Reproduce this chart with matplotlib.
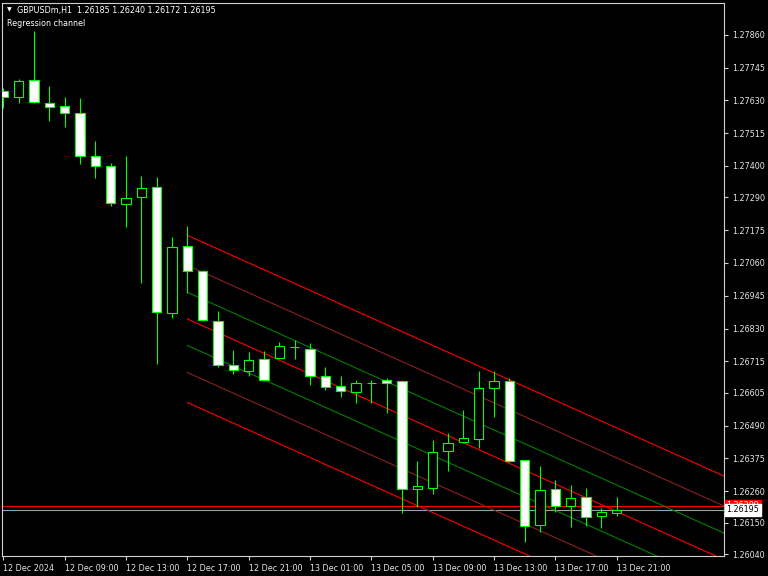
import matplotlib
matplotlib.use("Agg")
import matplotlib.pyplot as plt
from matplotlib.transforms import blended_transform_factory

# GBPUSDm H1 bars, 12 Dec 05:00 .. 13 Dec 21:00
opens = [1.27663, 1.27642, 1.27701, 1.27621, 1.27610, 1.27586, 1.27435, 1.27400,
         1.27267, 1.27291, 1.27326, 1.26885, 1.27120, 1.27032, 1.26857, 1.26702,
         1.26681, 1.26723, 1.26727, 1.26766, 1.26759, 1.26664, 1.26629, 1.26608,
         1.26639, 1.26650, 1.26646, 1.26268, 1.26271, 1.26401, 1.26433, 1.26443,
         1.26622, 1.26646, 1.26370, 1.26142, 1.26268, 1.26208, 1.26240, 1.26173,
         1.26185]
highs = [1.27673, 1.27705, 1.27873, 1.27680, 1.27642, 1.27638, 1.27488, 1.27410,
         1.27435, 1.27365, 1.27361, 1.27151, 1.27190, 1.27035, 1.26892, 1.26755,
         1.26748, 1.26751, 1.26783, 1.26790, 1.26780, 1.26695, 1.26664, 1.26650,
         1.26650, 1.26657, 1.26650, 1.26366, 1.26440, 1.26464, 1.26545, 1.26681,
         1.26681, 1.26657, 1.26370, 1.26348, 1.26299, 1.26282, 1.26271, 1.26201,
         1.26240]
lows = [1.27603, 1.27621, 1.27621, 1.27558, 1.27537, 1.27407, 1.27358, 1.27260,
        1.27186, 1.26990, 1.26706, 1.26867, 1.26955, 1.26857, 1.26695, 1.26671,
        1.26664, 1.26646, 1.26723, 1.26723, 1.26632, 1.26615, 1.26590, 1.26569,
        1.26569, 1.26534, 1.26184, 1.26205, 1.26250, 1.26331, 1.26429, 1.26412,
        1.26520, 1.26364, 1.26082, 1.26117, 1.26187, 1.26135, 1.26138, 1.26131,
        1.26172]
closes = [1.27642, 1.27698, 1.27624, 1.27607, 1.27586, 1.27435, 1.27400, 1.27270,
          1.27288, 1.27323, 1.26888, 1.27116, 1.27032, 1.26860, 1.26702, 1.26685,
          1.26720, 1.26650, 1.26769, 1.26764, 1.26664, 1.26625, 1.26611, 1.26639,
          1.26638, 1.26639, 1.26268, 1.26278, 1.26398, 1.26429, 1.26447, 1.26622,
          1.26646, 1.26366, 1.26138, 1.26264, 1.26208, 1.26236, 1.26170, 1.26187,
          1.26195]

time_labels = ["12 Dec 2024", "12 Dec 09:00", "12 Dec 13:00", "12 Dec 17:00",
               "12 Dec 21:00", "13 Dec 01:00", "13 Dec 05:00", "13 Dec 09:00",
               "13 Dec 13:00", "13 Dec 17:00", "13 Dec 21:00"]
label_bars = [0, 4, 8, 12, 16, 20, 24, 28, 32, 36, 40]

price_ticks = [1.27860, 1.27745, 1.27630, 1.27515, 1.27400, 1.27290, 1.27175,
               1.27060, 1.26945, 1.26830, 1.26715, 1.26605, 1.26490, 1.26375,
               1.26260, 1.26150, 1.26040]

# regression channel: centre line at first/last bar, band offsets
channel_first_bar = 12
channel_start = 1.26864
channel_end = 1.26189
channel_devs = [0.00093, 0.00188, 0.00293]
channel_colors = ["#008000", "#8b2020", "#ff0000"]

bid = 1.26195
ask = 1.26209

BG = "black"
LIME = "#00ff00"
TXT = "#e6e6e6"
FRAME = "#d0d0d0"

fig = plt.figure(figsize=(7.68, 5.76), dpi=100, facecolor=BG)
ax = fig.add_axes([2 / 768, 20 / 576, 722 / 768, 553.5 / 576], facecolor=BG)

n = len(closes)
xs = list(range(n))
xmin, xmax = -0.09, 47.0

# wicks
ax.vlines(xs, lows, highs, color=LIME, lw=0.8, zorder=3)

# bodies: white = bearish, black = bullish
for i in xs:
    o, c = opens[i], closes[i]
    fill = "white" if c < o else "black"
    h = abs(c - o)
    ax.bar(i, max(h, 0.000005), bottom=min(o, c), width=0.6, color=fill,
           edgecolor=LIME, linewidth=0.8, zorder=4)

# regression channel (ray to the right edge)
last = n - 1
slope = (channel_end - channel_start) / (last - channel_first_bar)
cx = [channel_first_bar, xmax]
cy = [channel_start, channel_start + slope * (xmax - channel_first_bar)]
ax.plot(cx, cy, color="#ff0000", lw=0.8, zorder=2)
for dev, col in zip(channel_devs, channel_colors):
    ax.plot(cx, [v + dev for v in cy], color=col, lw=0.8, zorder=2)
    ax.plot(cx, [v - dev for v in cy], color=col, lw=0.8, zorder=2)

# bid / ask lines
ax.axhline(ask, color="#ff0000", lw=0.8, zorder=1)
ax.axhline(bid, color="#a0a0a0", lw=0.8, zorder=1)

ax.set_xlim(xmin, xmax)
ax.set_ylim(1.26033, 1.27973)

for s in ax.spines.values():
    s.set_color(FRAME)
    s.set_linewidth(0.8)

ax.yaxis.tick_right()
ax.set_yticks(price_ticks)
ax.set_yticklabels([f"{p:.5f}" for p in price_ticks])
ax.set_xticks(label_bars)
ax.set_xticklabels(time_labels, ha="left")
ax.tick_params(axis="y", colors=FRAME, labelcolor=TXT, length=3, width=0.8,
               labelsize=5.8, pad=3)
ax.tick_params(axis="x", colors=FRAME, labelcolor=TXT, length=3, width=0.8,
               labelsize=5.8, pad=3)
for lbl in ax.get_xticklabels():
    lbl.set_x(lbl.get_position()[0])

# price labels on the right scale
tr = blended_transform_factory(ax.transAxes, ax.transData)
ax.text(1.003, ask, f"{ask:.5f}", transform=tr, ha="left", va="center",
        fontsize=5.8, color="white", zorder=5, clip_on=False,
        bbox=dict(boxstyle="square,pad=0.2", fc="#ff0000", ec="#ff0000"))
ax.text(1.003, bid, f"{bid:.5f}", transform=tr, ha="left", va="center",
        fontsize=5.8, color="black", zorder=6, clip_on=False,
        bbox=dict(boxstyle="square,pad=0.2", fc="white", ec="white"))

# header
fig.text(7 / 768, 1 - 10 / 576, "\u25bc", color="white", fontsize=4.5,
         va="center", ha="left")
fig.text(17 / 768, 1 - 10 / 576,
         f"GBPUSDm,H1  {opens[-1]:.5f} {highs[-1]:.5f} {lows[-1]:.5f} {closes[-1]:.5f}",
         color="white", fontsize=5.8, va="center", ha="left")
fig.text(7 / 768, 1 - 23 / 576, "Regression channel", color="white",
         fontsize=5.8, va="center", ha="left")

fig.savefig("out.png", dpi=100, facecolor=BG)
